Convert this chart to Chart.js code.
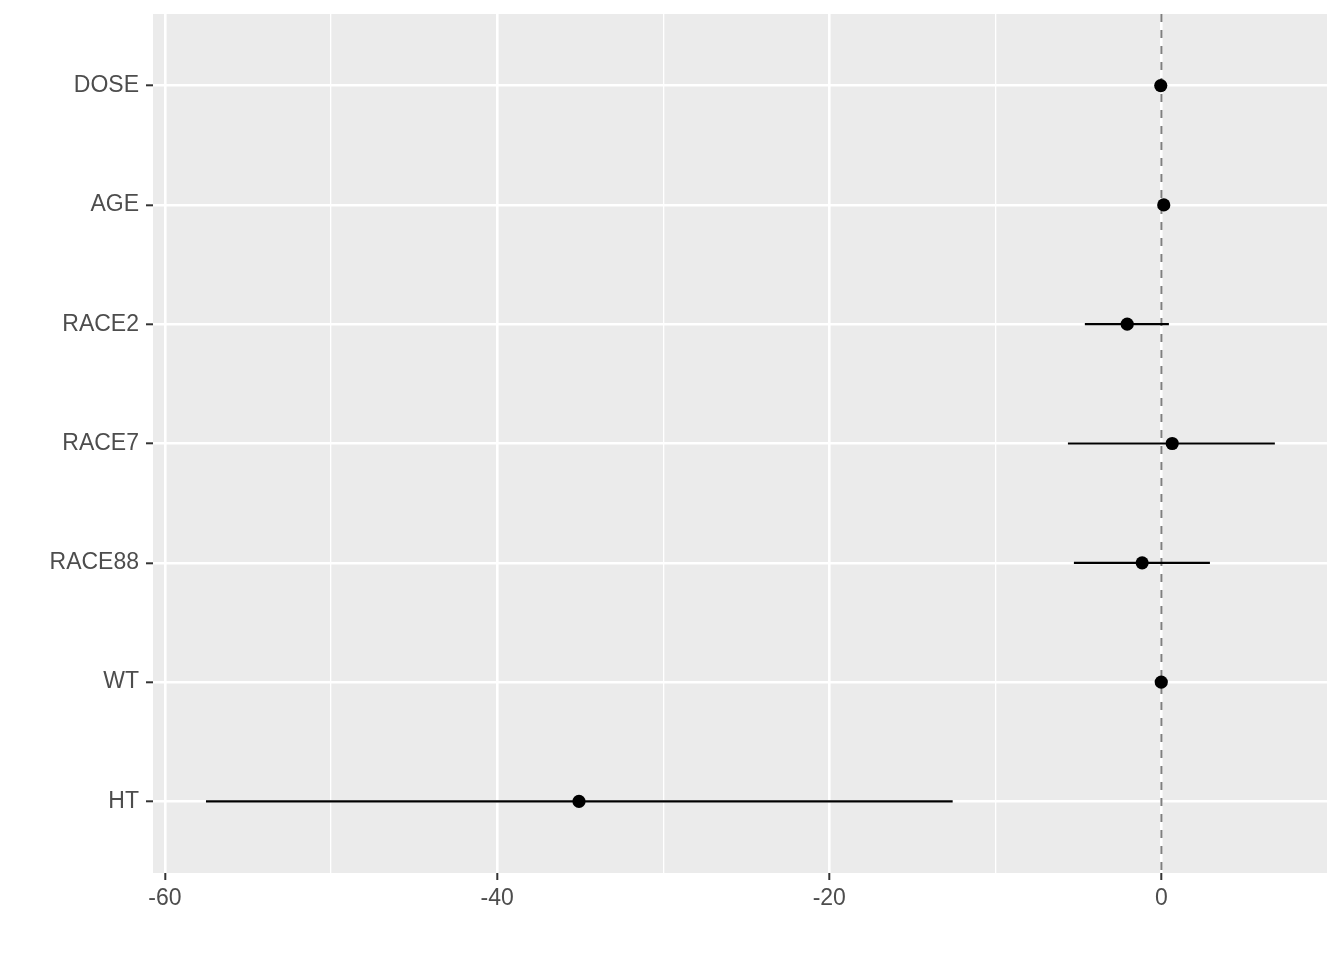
<!DOCTYPE html>
<html>
<head>
<meta charset="utf-8">
<script src="https://cdn.jsdelivr.net/npm/chart.js@4/dist/chart.umd.min.js"></script>
<style>
  html, body { margin: 0; padding: 0; background: #ffffff; }
  #c { display: block; }
</style>
</head>
<body>
<canvas id="c" width="1344" height="960"></canvas>
<script>
// Data (top to bottom as displayed)
const terms    = ["DOSE", "AGE", "RACE2", "RACE7", "RACE88", "WT", "HT"];
const estimate = [-0.04, 0.14, -2.06, 0.65, -1.16, -0.01, -35.07];
const lower    = [-0.06, 0.11, -4.61, -5.63, -5.27, -0.03, -57.53];
const upper    = [-0.02, 0.17, 0.45, 6.83, 2.92, 0.01, -12.57];
const xTicks   = [-60, -40, -20, 0];
const refLine  = 0;

const panelBg = '#EBEBEB';
const bgPlugin = {
  id: 'panelBg',
  beforeDraw(chart) {
    const a = chart.chartArea, ctx = chart.ctx;
    ctx.save();
    ctx.fillStyle = panelBg;
    ctx.fillRect(a.left, a.top, a.right - a.left, a.bottom - a.top);
    ctx.restore();
  }
};

const ciSets = terms.map((t, i) => ({
  type: 'line',
  label: t + ' CI',
  data: [{x: lower[i], y: i + 1}, {x: upper[i], y: i + 1}],
  borderColor: '#000000',
  borderWidth: 2.2,
  pointRadius: 0,
  order: 2
}));

const pointSet = {
  type: 'scatter',
  label: 'estimate',
  data: terms.map((t, i) => ({x: estimate[i], y: i + 1})),
  backgroundColor: '#000000',
  borderWidth: 0,
  pointRadius: 6.6,
  order: 1
};

const vlineSet = {
  type: 'line',
  label: 'zero',
  data: [{x: refLine, y: 0.4}, {x: refLine, y: terms.length + 0.6}],
  borderColor: '#7F7F7F',
  borderWidth: 2,
  borderDash: [8, 8],
  pointRadius: 0,
  order: 3
};

const font = { family: '"Liberation Sans", Arial, sans-serif', size: 23 };

new Chart(document.getElementById('c'), {
  type: 'scatter',
  data: { datasets: [vlineSet, ...ciSets, pointSet] },
  plugins: [bgPlugin],
  options: {
    responsive: false,
    animation: false,
    layout: { padding: { top: 14, right: 16, left: 0, bottom: 0 } },
    plugins: { legend: { display: false }, tooltip: { enabled: false } },
    scales: {
      x: {
        type: 'linear',
        min: -60.72,
        max: 10.03,
        afterFit(s) { s.height = 87; s.paddingLeft = 0; s.paddingRight = 0; },
        border: { display: false },
        grid: {
          color: '#FFFFFF',
          lineWidth: c => (c.tick && c.tick.value % 20 === 0) ? 2.6 : 1.3,
          tickColor: c => (c.tick && xTicks.includes(c.tick.value)) ? '#333333' : 'rgba(0,0,0,0)',
          tickLength: 7,
          tickWidth: 2
        },
        ticks: {
          stepSize: 10,
          includeBounds: false,
          autoSkip: false,
          maxRotation: 0,
          padding: 5,
          color: '#4D4D4D',
          font: font,
          callback: v => xTicks.includes(v) ? String(v) : ''
        }
      },
      y: {
        type: 'linear',
        reverse: true,
        min: 0.4,
        max: terms.length + 0.6,
        afterFit(s) { s.width = 153; s.paddingTop = 0; s.paddingBottom = 0; },
        border: { display: false },
        grid: {
          color: '#FFFFFF',
          lineWidth: 2.6,
          tickColor: '#333333',
          tickLength: 7,
          tickWidth: 2
        },
        ticks: {
          stepSize: 1,
          includeBounds: false,
          autoSkip: false,
          padding: 7,
          color: '#4D4D4D',
          font: font,
          callback: v => (Number.isInteger(v) && v >= 1 && v <= terms.length) ? terms[v - 1] : ''
        }
      }
    }
  }
});
</script>
</body>
</html>
